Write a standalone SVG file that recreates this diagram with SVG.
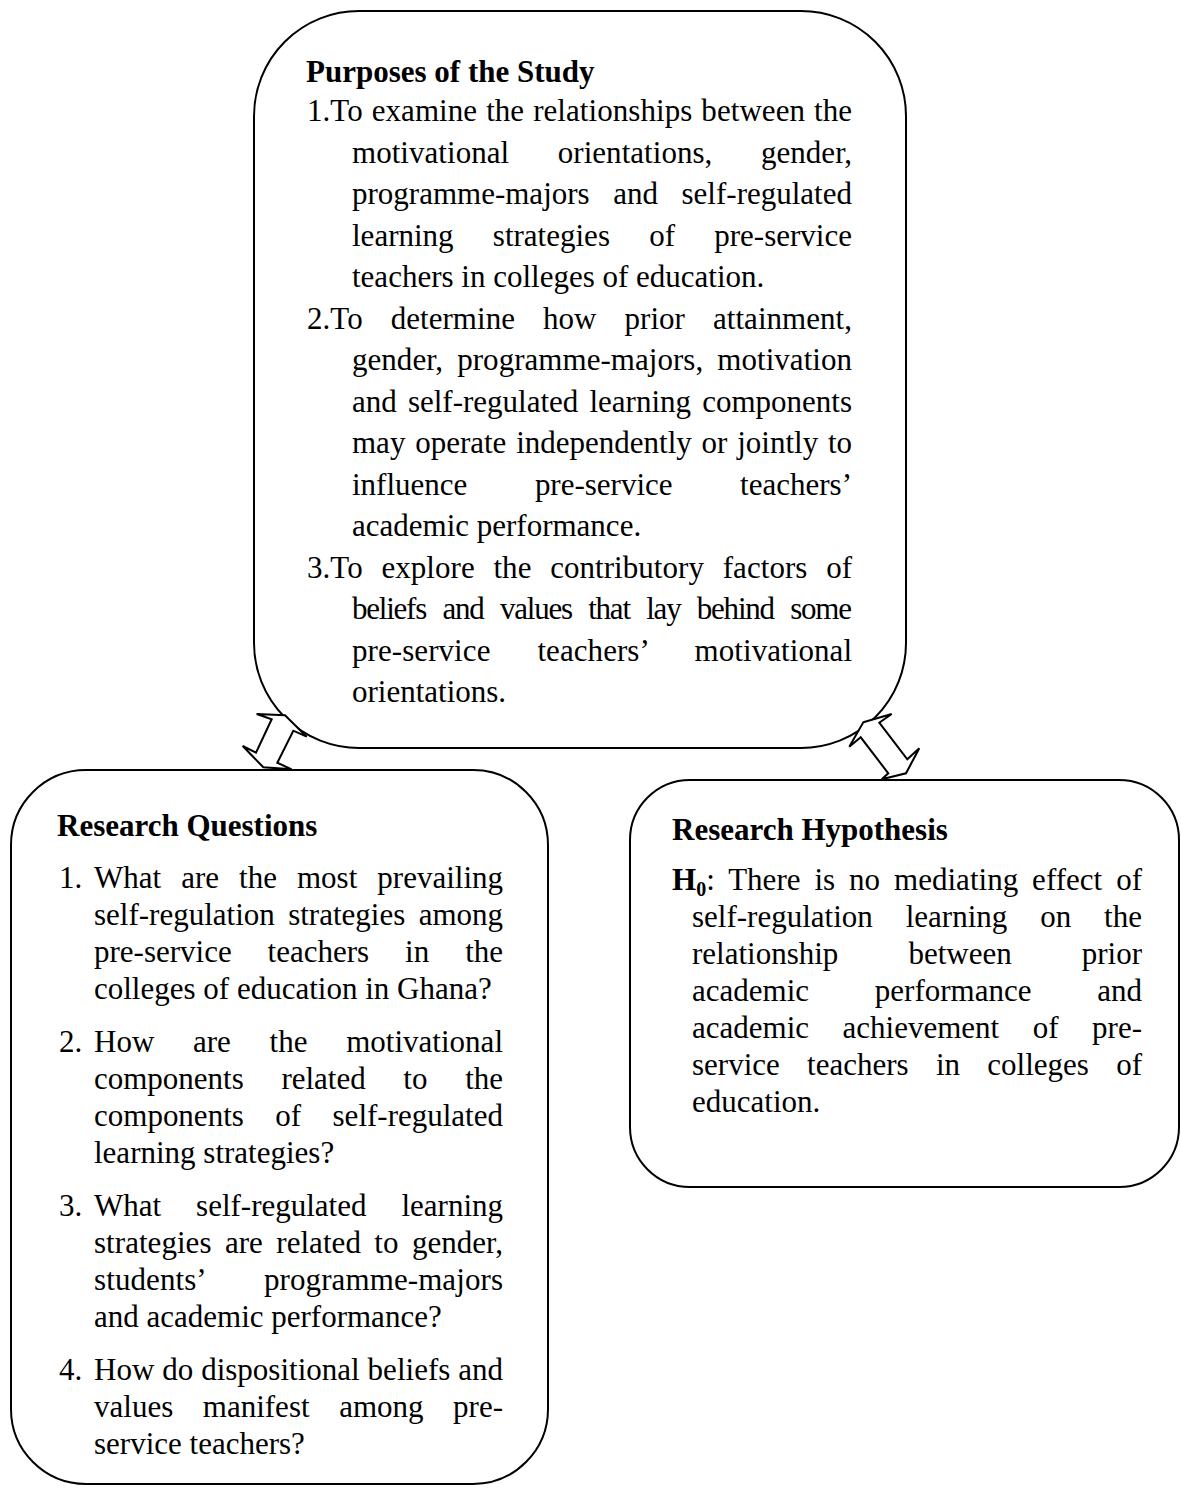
<svg xmlns="http://www.w3.org/2000/svg" width="1181" height="1488" viewBox="0 0 1181 1488">
  <style>
    .box { fill: #fff; stroke: #000; stroke-width: 2; }
    .arrow { fill: #fff; stroke: #000; stroke-width: 2; stroke-linejoin: miter; }
    .t { font-family: "Liberation Serif", "Times New Roman", serif; font-size: 31px; fill: #000; }
    .b { font-weight: bold; }
  </style>
  <rect width="1181" height="1488" fill="#fff"/>

  <!-- Purposes of the Study (justified lines: word-spacing fills each line) -->
  <g id="purposes">
    <rect class="box" x="254" y="11" width="652" height="737" rx="105" ry="105"/>
    <text class="t b" x="306" y="82">Purposes of the Study</text>
    <text class="t" x="307" y="121" word-spacing="1.2" textLength="545" lengthAdjust="spacing">1.To examine the relationships between the</text>
    <text class="t" x="352" y="162.5" word-spacing="40.8" textLength="500" lengthAdjust="spacing">motivational orientations, gender,</text>
    <text class="t" x="352" y="204" word-spacing="15.8" textLength="500" lengthAdjust="spacing">programme-majors and self-regulated</text>
    <text class="t" x="352" y="245.5" word-spacing="31.5" textLength="500" lengthAdjust="spacing">learning strategies of pre-service</text>
    <text class="t" x="352" y="287">teachers in colleges of education.</text>
    <text class="t" x="307" y="328.5" word-spacing="20.2" textLength="545" lengthAdjust="spacing">2.To determine how prior attainment,</text>
    <text class="t" x="352" y="370" word-spacing="6.3" textLength="500" lengthAdjust="spacing">gender, programme-majors, motivation</text>
    <text class="t" x="352" y="411.5" word-spacing="3.4" textLength="500" lengthAdjust="spacing">and self-regulated learning components</text>
    <text class="t" x="352" y="453" word-spacing="2" textLength="500" lengthAdjust="spacing">may operate independently or jointly to</text>
    <text class="t" x="352" y="494.5" word-spacing="59.8" textLength="500" lengthAdjust="spacing">influence pre-service teachers’</text>
    <text class="t" x="352" y="536">academic performance.</text>
    <text class="t" x="307" y="577.5" word-spacing="10.9" textLength="545" lengthAdjust="spacing">3.To explore the contributory factors of</text>
    <text class="t" x="352" y="619" word-spacing="9.9" textLength="500" lengthAdjust="spacing">beliefs and values that lay behind some</text>
    <text class="t" x="352" y="660.5" word-spacing="39.1" textLength="500" lengthAdjust="spacing">pre-service teachers’ motivational</text>
    <text class="t" x="352" y="702">orientations.</text>
  </g>

  <!-- Research Questions -->
  <g id="questions">
    <rect class="box" x="11" y="770" width="537" height="714" rx="75" ry="75"/>
    <text class="t b" x="57" y="836">Research Questions</text>
    <text class="t" x="59" y="888">1.</text>
    <text class="t" x="94" y="888" word-spacing="12.3" textLength="409" lengthAdjust="spacing">What are the most prevailing</text>
    <text class="t" x="94" y="925" word-spacing="5.6" textLength="409" lengthAdjust="spacing">self-regulation strategies among</text>
    <text class="t" x="94" y="962" word-spacing="28.2" textLength="409" lengthAdjust="spacing">pre-service teachers in the</text>
    <text class="t" x="94" y="999">colleges of education in Ghana?</text>
    <text class="t" x="59" y="1052">2.</text>
    <text class="t" x="94" y="1052" word-spacing="31" textLength="409" lengthAdjust="spacing">How are the motivational</text>
    <text class="t" x="94" y="1089" word-spacing="29.9" textLength="409" lengthAdjust="spacing">components related to the</text>
    <text class="t" x="94" y="1126" word-spacing="23.7" textLength="409" lengthAdjust="spacing">components of self-regulated</text>
    <text class="t" x="94" y="1163">learning strategies?</text>
    <text class="t" x="59" y="1216">3.</text>
    <text class="t" x="94" y="1216" word-spacing="27.2" textLength="409" lengthAdjust="spacing">What self-regulated learning</text>
    <text class="t" x="94" y="1253" word-spacing="5.6" textLength="409" lengthAdjust="spacing">strategies are related to gender,</text>
    <text class="t" x="94" y="1290" word-spacing="51.7" textLength="409" lengthAdjust="spacing">students’ programme-majors</text>
    <text class="t" x="94" y="1327">and academic performance?</text>
    <text class="t" x="59" y="1380">4.</text>
    <text class="t" x="94" y="1380" word-spacing="0.2" textLength="409" lengthAdjust="spacing">How do dispositional beliefs and</text>
    <text class="t" x="94" y="1417" word-spacing="21.8" textLength="409" lengthAdjust="spacing">values manifest among pre-</text>
    <text class="t" x="94" y="1454">service teachers?</text>
  </g>

  <!-- Research Hypothesis -->
  <g id="hypothesis">
    <rect class="box" x="630" y="780" width="549" height="407" rx="60" ry="60"/>
    <text class="t b" x="672" y="840">Research Hypothesis</text>
    <text class="t" x="672" y="890" word-spacing="6.1" textLength="470" lengthAdjust="spacing"><tspan class="b">H</tspan><tspan class="b" font-size="20" dy="6">0</tspan><tspan dy="-6">: There is no mediating effect of</tspan></text>
    <text class="t" x="692" y="927" word-spacing="25.2" textLength="450" lengthAdjust="spacing">self-regulation learning on the</text>
    <text class="t" x="692" y="964" word-spacing="62.3" textLength="450" lengthAdjust="spacing">relationship between prior</text>
    <text class="t" x="692" y="1001" word-spacing="58" textLength="450" lengthAdjust="spacing">academic performance and</text>
    <text class="t" x="692" y="1038" word-spacing="25.8" textLength="450" lengthAdjust="spacing">academic achievement of pre-</text>
    <text class="t" x="692" y="1075" word-spacing="19.5" textLength="450" lengthAdjust="spacing">service teachers in colleges of</text>
    <text class="t" x="692" y="1112">education.</text>
  </g>

  <!-- Double-headed block arrows between the boxes -->
  <g id="connectors">
    <polygon class="arrow" points="285,715.3 306.7,736.7 293.3,730.7 277.3,762.7 291.7,769.3 263.3,767.3 242.7,746 256,752.7 271.7,719.3 256.7,714"/>
    <polygon class="arrow" points="863.3,722.3 891.7,714 879.3,722.7 907.3,759.3 919.3,748.3 906,773.3 881.7,779.3 888.3,773.3 860.7,737.3 849.3,746.7"/>
  </g>
</svg>
